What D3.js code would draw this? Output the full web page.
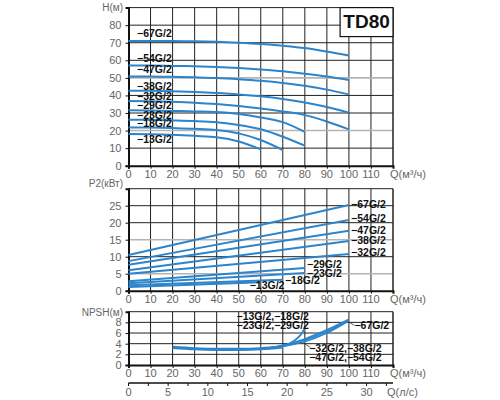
<!DOCTYPE html>
<html>
<head>
<meta charset="utf-8">
<script src="https://cdn.jsdelivr.net/npm/d3@7/dist/d3.min.js"></script>
<style>
    body { margin: 0; background: #fff; }
    svg { display: block; font-family: "Liberation Sans", Arial, sans-serif; }
    .tick-text { fill: #666; font-size: 11px; }
    .axis-title { fill: #666; font-size: 10px; }
    .curve-label { fill: #111; font-size: 10.5px; font-weight: bold; }
</style>
</head>
<body>
<svg id="chart" width="500" height="400"></svg>
<script>
// --- data ---
const models = ["67G/2", "54G/2", "47G/2", "38G/2", "32G/2", "29G/2", "23G/2", "18G/2", "13G/2"];
const flowSteps = [0, 10, 20, 30, 40, 50, 60, 70, 80, 90, 100];
const qMax = [100, 100, 100, 100, 100, 80, 80, 70, 60];

// head H (m) at each flow step, until qMax
const headValues = [
    [71, 71, 71, 70.8, 70.5, 70, 69.3, 68.3, 67, 65, 62.7],
    [57, 57, 56.8, 56.6, 56.2, 55.6, 54.8, 53.8, 52.4, 50.8, 48.8],
    [50.8, 50.8, 50.6, 50.3, 49.9, 49.2, 48.3, 47.1, 45.5, 43.3, 40.6],
    [42.7, 42.6, 42.4, 42, 41.4, 40.6, 39.5, 38, 36, 33.4, 30.2],
    [36.8, 36.7, 36.4, 35.9, 35.1, 34, 32.6, 30.9, 28.8, 25.2, 20.7],
    [31.5, 31.4, 31.2, 30.9, 30.5, 29.4, 27.5, 24.8, 19.2],
    [26.2, 26.1, 25.8, 25.4, 24.7, 23.2, 20.7, 16.5, 11.4],
    [21.8, 21.7, 21.4, 21, 20.3, 18.4, 14.6, 8.9],
    [18, 17.9, 17.6, 17, 16.2, 13.8, 9.3]
];

// power P2 (kW) at Q=0 and at qMax
const powerStart = [10.5, 8.7, 7.6, 6.0, 5.0, 2.8, 2.2, 1.6, 1.1];
const powerEnd = [25.2, 20.8, 17.6, 14.6, 10.8, 6.7, 5.2, 3.2, 2.5];

// NPSH (m)
const npshCommonQ = [20, 30, 40, 50, 60, 70];
const npshCommon = [3.3, 3.05, 2.95, 2.95, 3.05, 3.4];
const npshSmallQ = [68, 72, 75, 78, 80];
const npshSmall = [3.3, 3.8, 4.5, 5.6, 6.9];
const npshLargeQ = [62, 70, 80, 90, 100];
const npshLarge = [
    [3.1, 3.5, 4.4, 6.0, 8.3],
    [3.1, 3.6, 4.7, 6.3, 8.4],
    [3.1, 3.7, 4.9, 6.6, 8.6]
];

// tick labels
const qTicks = [0, 10, 20, 30, 40, 50, 60, 70, 80, 90, 100, 110];
const hTicks = [0, 10, 20, 30, 40, 50, 60, 70, 80];
const pTicks = [0, 5, 10, 15, 20, 25];
const npshTicks = [0, 2, 4, 6, 8];
const lsTicks = [0, 5, 10, 15, 20, 25, 30];
const lsMinor = d3.range(0, 33.4, 2.5);

// label anchors (in data units)
const headLabelH = [74.6, 60.6, 54.1, 44.6, 38.7, 34, 28.3, 23.7, 14.6];
const powerLabels = [
    { text: "−67G/2", q: 101, v: 25.2 },
    { text: "−54G/2", q: 101, v: 20.9 },
    { text: "−47G/2", q: 101, v: 17.6 },
    { text: "−38G/2", q: 101, v: 14.6 },
    { text: "−32G/2", q: 101, v: 11.1 },
    { text: "−29G/2", q: 81, v: 7.4 },
    { text: "−23G/2", q: 81, v: 4.9 },
    { text: "−18G/2", q: 71, v: 2.8 },
    { text: "−13G/2", q: 55, v: 1.4 }
];
const npshLabels = [
    { text: "−13G/2,−18G/2", q: 49, v: 8.9 },
    { text: "−23G/2,−29G/2", q: 49, v: 7.3 },
    { text: "−67G/2", q: 102.5, v: 7.3 },
    { text: "−32G/2,−38G/2", q: 82, v: 2.9 },
    { text: "−47G/2,−54G/2", q: 82, v: 1.2 }
];

const svg = d3.select("#chart");
const blue = "#2b84cc";
const left = 128.5, right = 393;

const x = d3.scaleLinear().domain([0, 120]).range([left, right]);
const xLs = d3.scaleLinear().domain([0, 120 / 3.6]).range([left, right]);

function panel(y, yTicks, gridStep, greyLines, title, titleY) {
    const [yMin, yMax] = y.domain();
    const g = svg.append("g");
    // vertical grid
    d3.range(10, 120, 10).forEach((q) => {
        g.append("line")
            .attr("x1", x(q)).attr("x2", x(q))
            .attr("y1", y(yMin)).attr("y2", y(yMax))
            .attr("stroke", "#222").attr("stroke-width", 1);
    });
    // horizontal grid
    d3.range(yMin + gridStep, yMax + 0.001, gridStep).forEach((v) => {
        const grey = greyLines.includes(v);
        g.append("line")
            .attr("x1", left).attr("x2", right)
            .attr("y1", y(v)).attr("y2", y(v))
            .attr("stroke", grey ? "#b4b4b4" : "#222")
            .attr("stroke-width", grey ? 1.6 : 1);
    });
    // right border
    g.append("line")
        .attr("x1", right).attr("x2", right)
        .attr("y1", y(yMin)).attr("y2", y(yMax))
        .attr("stroke", "#222").attr("stroke-width", 1.5);

    // axes
    const ax = g.append("g")
        .attr("transform", `translate(0,${y(yMin)})`)
        .call(d3.axisBottom(x).tickValues(qTicks).tickSize(3).tickFormat(""));
    ax.select(".domain").attr("stroke", "#111").attr("stroke-width", 2);
    ax.selectAll("line").attr("stroke", "#111");

    const ay = g.append("g")
        .attr("transform", `translate(${left},0)`)
        .call(d3.axisLeft(y).tickValues(yTicks).tickSize(3).tickPadding(4));
    ay.select(".domain").attr("stroke", "#111").attr("stroke-width", 2);
    ay.selectAll("line").attr("stroke", "#111");
    ay.selectAll("text").attr("class", "tick-text").attr("fill", null);

    // x tick labels
    qTicks.forEach((q) => {
        g.append("text")
            .attr("class", "tick-text")
            .attr("x", x(q)).attr("y", y(yMin) + 12)
            .attr("text-anchor", "middle")
            .text(q);
    });
    g.append("text")
        .attr("class", "tick-text")
        .attr("x", 390).attr("y", y(yMin) + 12)
        .text("Q(м³/ч)");

    // y title
    g.append("text")
        .attr("class", "axis-title")
        .attr("x", 123).attr("y", titleY)
        .attr("text-anchor", "end")
        .text(title);
    return g;
}

// --- H chart ---
const yH = d3.scaleLinear().domain([0, 90]).range([165.7, 7.6]);
const gH = panel(yH, hTicks, 10, [20, 50], "H(м)", 11);

const lineH = d3.line()
    .x((d) => x(d[0]))
    .y((d) => yH(d[1]))
    .curve(d3.curveMonotoneX);

models.forEach((m, i) => {
    const pts = headValues[i].map((v, j) => [flowSteps[j], v]);
    gH.append("path")
        .attr("d", lineH(pts))
        .attr("fill", "none")
        .attr("stroke", blue)
        .attr("stroke-width", 2);
    gH.append("text")
        .attr("class", "curve-label")
        .attr("x", 137).attr("y", yH(headLabelH[i]))
        .attr("dominant-baseline", "middle")
        .text("−" + m);
});

// TD80 box
gH.append("rect")
    .attr("x", x(96)).attr("y", yH(90))
    .attr("width", right - x(96)).attr("height", yH(73.5) - yH(90))
    .attr("fill", "#fff").attr("stroke", "#111").attr("stroke-width", 1.2);
gH.append("text")
    .attr("x", (x(96) + right) / 2).attr("y", (yH(90) + yH(73.5)) / 2 + 1)
    .attr("text-anchor", "middle").attr("dominant-baseline", "middle")
    .attr("font-size", 19).attr("font-weight", "bold").attr("fill", "#111")
    .text("TD80");

// --- P2 chart ---
const yP = d3.scaleLinear().domain([0, 30]).range([290.7, 188.7]);
const gP = panel(yP, pTicks, 5, [5, 15], "P2(кВт)", 187);

const lineP = d3.line().x((d) => x(d[0])).y((d) => yP(d[1]));
models.forEach((m, i) => {
    gP.append("path")
        .attr("d", lineP([[0, powerStart[i]], [qMax[i], powerEnd[i]]]))
        .attr("fill", "none")
        .attr("stroke", blue)
        .attr("stroke-width", 2);
});
powerLabels.forEach((l) => {
    gP.append("text")
        .attr("class", "curve-label")
        .attr("x", x(l.q)).attr("y", yP(l.v))
        .attr("dominant-baseline", "middle")
        .text(l.text);
});

// --- NPSH chart ---
const yN = d3.scaleLinear().domain([0, 10]).range([365, 311.7]);
const gN = panel(yN, npshTicks, 2, [], "NPSH(м)", 316);

const lineN = d3.line()
    .x((d) => x(d[0]))
    .y((d) => yN(d[1]))
    .curve(d3.curveMonotoneX);

npshLarge.forEach((vals) => {
    gN.append("path")
        .attr("d", lineN(vals.map((v, j) => [npshLargeQ[j], v])))
        .attr("fill", "none").attr("stroke", blue).attr("stroke-width", 1.6);
});
gN.append("path")
    .attr("d", lineN(npshSmall.map((v, j) => [npshSmallQ[j], v])))
    .attr("fill", "none").attr("stroke", blue).attr("stroke-width", 1.8);
gN.append("path")
    .attr("d", lineN(npshCommon.map((v, j) => [npshCommonQ[j], v])))
    .attr("fill", "none").attr("stroke", blue).attr("stroke-width", 3.2);

// leader lines
gN.append("line")
    .attr("x1", x(100)).attr("y1", yN(8.1))
    .attr("x2", x(102.5)).attr("y2", yN(7.4))
    .attr("stroke", "#333").attr("stroke-width", 0.8);
gN.append("line")
    .attr("x1", x(79.5)).attr("y1", yN(4.1))
    .attr("x2", x(82.5)).attr("y2", yN(3.3))
    .attr("stroke", "#333").attr("stroke-width", 0.8);

npshLabels.forEach((l) => {
    gN.append("text")
        .attr("class", "curve-label")
        .attr("x", x(l.q)).attr("y", yN(l.v))
        .attr("dominant-baseline", "middle")
        .text(l.text);
});

// --- l/s axis ---
const yLs = 383;
svg.append("line")
    .attr("x1", left).attr("x2", right)
    .attr("y1", yLs).attr("y2", yLs)
    .attr("stroke", "#111").attr("stroke-width", 1.5);
lsMinor.forEach((v) => {
    svg.append("line")
        .attr("x1", xLs(v)).attr("x2", xLs(v))
        .attr("y1", yLs).attr("y2", yLs + 3)
        .attr("stroke", "#111");
});
lsTicks.forEach((v) => {
    svg.append("text")
        .attr("class", "tick-text")
        .attr("x", xLs(v)).attr("y", yLs + 13)
        .attr("text-anchor", "middle")
        .text(v);
});
svg.append("text")
    .attr("class", "tick-text")
    .attr("x", 387).attr("y", yLs + 13)
    .text("Q(л/с)");
</script>
</body>
</html>
